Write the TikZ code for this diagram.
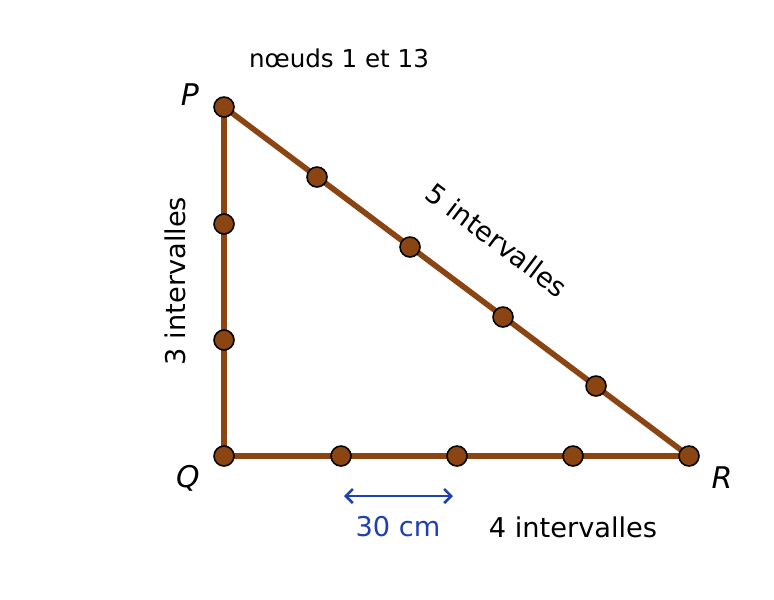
\documentclass[tikz,border=0pt]{standalone}
\usepackage{fontspec}
\setmainfont{DejaVu Sans}
\usepackage{tikz}
\usetikzlibrary{arrows,arrows.meta,positioning}

\definecolor{rope}{HTML}{8B4513}
\definecolor{measure}{HTML}{2040B0}

\begin{document}
\begin{tikzpicture}[x=0.02cm, y=-0.02cm]
		\tikzstyle{Knot}	= [circle, draw, line width=0.9pt, fill=rope, minimum size=4mm, inner sep=0pt]
		\tikzstyle{Rope}	= [line width=3.2pt, rope]
		\tikzstyle{Corner}	= [font=\fontsize{17}{20}\selectfont\itshape]
		\tikzstyle{Label}	= [font=\fontsize{15.5}{18}\selectfont]
		\tikzstyle{Scale}	= [line width=1.5pt, measure, {Straight Barb[length=4pt,width=8pt]}-{Straight Barb[length=4pt,width=8pt]}]
		
		\useasboundingbox (0,0) rectangle (774,599);
		
		\draw [Rope] (224,107) -- (224,456) -- (689,456) -- cycle;
		
		\node (v1) at (224,107) [Knot] {};
		\node (v2) at (224,224) [Knot] {};
		\node (v3) at (224,340) [Knot] {};
		\node (v4) at (224,456) [Knot] {};
		\node (v5) at (341,456) [Knot] {};
		\node (v6) at (457,456) [Knot] {};
		\node (v7) at (573,456) [Knot] {};
		\node (v8) at (689,456) [Knot] {};
		\node (v9) at (596,386) [Knot] {};
		\node (v10) at (503,317) [Knot] {};
		\node (v11) at (410,247) [Knot] {};
		\node (v12) at (317,177) [Knot] {};
		
		\node (P) at (190,95) [Corner] {P};
		\node (Q) at (188,478) [Corner] {Q};
		\node (R) at (722,478) [Corner] {R};
		
		\node (ends) at (339,58) [Label, font=\fontsize{14}{17}\selectfont] {nœuds 1 et 13};
		\node (left) at (175,281) [Label, rotate=90] {3 intervalles};
		\node (slant) at (497,240) [Label, rotate=-36.9] {5 intervalles};
		\node (bottom) at (573,527) [Label] {4 intervalles};
		
		\coordinate (a) at (344,496);
		\coordinate (b) at (453,496);
		\draw [Scale] (a) to (b);
		\node (cm) at (398,527) [Label, text=measure] {30 cm};
	\end{tikzpicture}
\end{document}
